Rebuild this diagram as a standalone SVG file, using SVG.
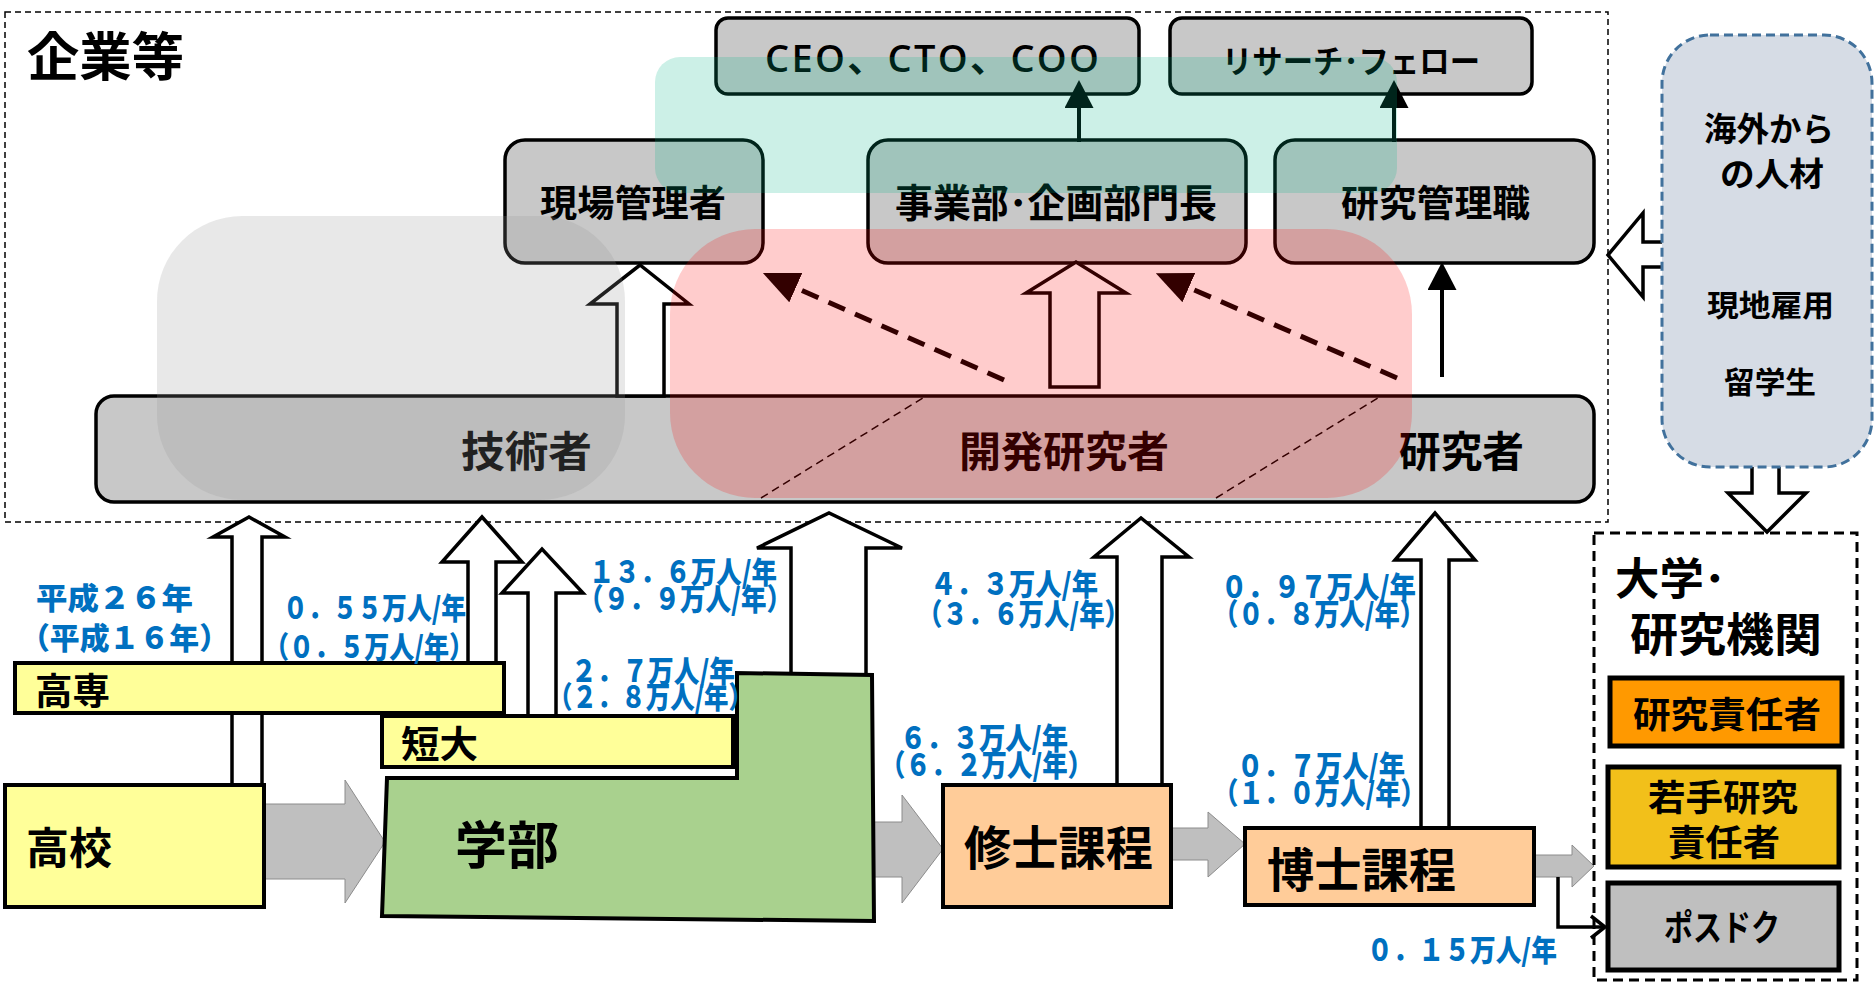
<svg xmlns="http://www.w3.org/2000/svg" width="1874" height="987" viewBox="0 0 1874 987">
<style>
.t{font-family:"Noto Sans CJK JP","Noto Sans",sans-serif;font-weight:700;fill:#000}
.lbl{font-family:"Noto Sans CJK JP","Noto Sans",sans-serif;font-weight:900;fill:#0070c0;font-size:30px}
.box{fill:#c8c8c8;stroke:#000;stroke-width:3.5}
.wa{fill:#fff;stroke:#000;stroke-width:3.5;stroke-linejoin:miter}
.ga{fill:#bfbfbf;stroke:#8c8c8c;stroke-width:1}
.yel{fill:#ffff99;stroke:#000;stroke-width:4}
.peach{fill:#ffcc99;stroke:#000;stroke-width:4}
.dl{fill:none;stroke:#000;stroke-width:5;stroke-dasharray:18 11}
.sl{fill:none;stroke:#000;stroke-width:4}
</style>
<defs>
<marker id="headD" markerUnits="userSpaceOnUse" viewBox="0 0 36 32" markerWidth="36" markerHeight="32" refX="14" refY="16" orient="auto">
<path d="M0,0 L36,16 L0,32 z" fill="#000"/>
</marker>
<marker id="headS" markerUnits="userSpaceOnUse" viewBox="0 0 28 29" markerWidth="28" markerHeight="29" refX="8" refY="14.5" orient="auto">
<path d="M0,0 L28,14.5 L0,29 z" fill="#000"/>
</marker>
</defs>

<!-- 企業等 frame -->
<g id="company">
<rect x="5" y="12" width="1603" height="510" fill="none" stroke="#000" stroke-width="1.5" stroke-dasharray="6 4"/>
<text class="t" x="27" y="76" font-size="52" textLength="157" lengthAdjust="spacingAndGlyphs">企業等</text>
</g>

<g id="ceo">
<rect class="box" x="716" y="18" width="423" height="76" rx="12" stroke-width="3"/>
<text x="765" y="72" font-family="'Open Sans','Noto Sans CJK JP',sans-serif" font-weight="600" font-size="38" fill="#000" textLength="334" lengthAdjust="spacing">CEO、CTO、COO</text>
</g>
<g id="fellow">
<rect class="box" x="1170" y="18" width="362" height="76" rx="12" stroke-width="3"/>
<text class="t" x="1222" y="73" font-size="32" textLength="258" lengthAdjust="spacingAndGlyphs">リサーチ･フェロー</text>
</g>
<g id="genba">
<rect class="box" x="505" y="140" width="258" height="123" rx="20"/>
<text class="t" x="540" y="217" font-size="37" textLength="186" lengthAdjust="spacingAndGlyphs">現場管理者</text>
</g>
<g id="jigyobu">
<rect class="box" x="868" y="140" width="378" height="123" rx="20"/>
<text class="t" x="895" y="217" font-size="39" textLength="322" lengthAdjust="spacingAndGlyphs">事業部･企画部門長</text>
</g>
<g id="kenkyukanri">
<rect class="box" x="1275" y="140" width="319" height="123" rx="20"/>
<text class="t" x="1341" y="217" font-size="37" textLength="189" lengthAdjust="spacingAndGlyphs">研究管理職</text>
</g>
<g id="bar">
<rect class="box" x="96" y="396" width="1498" height="106" rx="18" stroke-width="4"/>
<line x1="761" y1="498" x2="926" y2="396" stroke="#000" stroke-width="1.5" stroke-dasharray="8 5"/>
<line x1="1216" y1="498" x2="1381" y2="396" stroke="#000" stroke-width="1.5" stroke-dasharray="8 5"/>
<text class="t" x="461" y="467" font-size="42" textLength="131" lengthAdjust="spacingAndGlyphs">技術者</text>
<text class="t" x="959" y="467" font-size="42" textLength="210" lengthAdjust="spacingAndGlyphs">開発研究者</text>
<text class="t" x="1399" y="467" font-size="42" textLength="125" lengthAdjust="spacingAndGlyphs">研究者</text>
</g>

<g id="connectors-company">
<polygon class="wa" points="617,396 617,304 590,304 640,265 689,304 664,304 664,396"/>
<polygon class="wa" points="1050,387 1050,293 1026,293 1076,262 1126,293 1099,293 1099,387"/>
<line class="dl" x1="1004" y1="380" x2="783" y2="282" marker-end="url(#headD)"/>
<line class="dl" x1="1397" y1="378" x2="1176" y2="282" marker-end="url(#headD)"/>
<line class="sl" x1="1442" y1="377" x2="1442" y2="282" marker-end="url(#headS)"/>
<line class="sl" x1="1079" y1="142" x2="1079" y2="100" marker-end="url(#headS)"/>
<line class="sl" x1="1394" y1="142" x2="1394" y2="100" marker-end="url(#headS)"/>
</g>

<g id="overlays">
<rect x="157" y="216" width="468" height="284" rx="85" fill="#969696" opacity="0.22"/>
<rect x="670" y="229" width="742" height="269" rx="85" fill="#ff0000" opacity="0.2"/>
<rect x="655" y="57" width="742" height="136" rx="25" fill="#00b386" opacity="0.2"/>
</g>

<g id="connectors-edu">
<polygon class="wa" points="232,785 232,537 213,537 249,517 285,537 262,537 262,785"/>
<polygon class="wa" points="468,663 468,562 442,562 482,517 522,562 496,562 496,663"/>
<polygon class="wa" points="528,716 528,593 502,593 542,549 583,593 556,593 556,716"/>
<polygon class="wa" points="791,675 791,548 757,548 829,513 902,548 866,548 866,675"/>
<polygon class="wa" points="1117,785 1117,557 1094,557 1141,518 1189,557 1162,557 1162,785"/>
<polygon class="wa" points="1421,828 1421,560 1395,560 1435,513 1475,560 1449,560 1449,828"/>
<polygon class="ga" points="262,804 345,804 345,780 385,842 345,903 345,879 262,879"/>
<polygon class="ga" points="874,822 902,822 902,795 943,849 902,903 902,877 874,877"/>
<polygon class="ga" points="1171,828 1208,828 1208,812 1245,844 1208,877 1208,860 1171,860"/>
<polygon class="ga" points="1534,855 1572,855 1572,845 1594,866 1572,887 1572,877 1534,877"/>
<polyline points="1558,877 1558,927 1604,927" fill="none" stroke="#000" stroke-width="3.5"/>
<polyline points="1591,916 1605,927 1591,938" fill="none" stroke="#000" stroke-width="3.5"/>
<polygon class="wa" points="1665,242 1643,242 1643,213 1608,255 1643,297 1643,267 1665,267"/>
<polygon class="wa" points="1752,462 1779,462 1779,493 1806,493 1767,532 1728,493 1752,493"/>
</g>

<g id="koukou">
<rect class="yel" x="5" y="785" width="259" height="122"/>
<text class="t" x="26" y="864" font-size="43" textLength="86" lengthAdjust="spacingAndGlyphs">高校</text>
</g>
<g id="kousen">
<rect class="yel" x="15" y="663" width="489" height="50"/>
<text class="t" x="35" y="705" font-size="37" textLength="75" lengthAdjust="spacingAndGlyphs">高専</text>
</g>
<g id="tandai">
<rect class="yel" x="382" y="716" width="351" height="51"/>
<text class="t" x="401" y="758" font-size="37" textLength="77" lengthAdjust="spacingAndGlyphs">短大</text>
</g>
<g id="gakubu">
<polygon points="387,778 737,778 737,673 872,675 874,921 382,916" fill="#a9d18e" stroke="#000" stroke-width="4"/>
<text class="t" x="455" y="864" font-size="51" textLength="104" lengthAdjust="spacingAndGlyphs">学部</text>
</g>
<g id="shushi">
<rect class="peach" x="943" y="785" width="228" height="122"/>
<text class="t" x="964" y="865" font-size="47" textLength="189" lengthAdjust="spacingAndGlyphs">修士課程</text>
</g>
<g id="hakushi">
<rect class="peach" x="1245" y="828" width="289" height="77"/>
<text class="t" x="1267" y="887" font-size="47" textLength="189" lengthAdjust="spacingAndGlyphs">博士課程</text>
</g>

<g id="labels">
<text class="lbl" x="36" y="609" textLength="157" lengthAdjust="spacingAndGlyphs">平成２６年</text>
<text class="lbl" x="20" y="649" textLength="209" lengthAdjust="spacingAndGlyphs">（平成１６年）</text>
<text class="lbl" x="283" y="619" textLength="183" lengthAdjust="spacingAndGlyphs">０．５５万人/年</text>
<text class="lbl" x="264" y="658" textLength="210" lengthAdjust="spacingAndGlyphs">（０．５万人/年）</text>
<text class="lbl" x="589" y="583" textLength="188" lengthAdjust="spacingAndGlyphs">１３．６万人/年</text>
<text class="lbl" x="578" y="610" textLength="214" lengthAdjust="spacingAndGlyphs">（９．９万人/年）</text>
<text class="lbl" x="571" y="682" textLength="164" lengthAdjust="spacingAndGlyphs">２．７万人/年</text>
<text class="lbl" x="548" y="708" textLength="205" lengthAdjust="spacingAndGlyphs">（２．８万人/年）</text>
<text class="lbl" x="930" y="595" textLength="168" lengthAdjust="spacingAndGlyphs">４．３万人/年</text>
<text class="lbl" x="917" y="625" textLength="213" lengthAdjust="spacingAndGlyphs">（３．６万人/年）</text>
<text class="lbl" x="1221" y="598" textLength="195" lengthAdjust="spacingAndGlyphs">０．９７万人/年</text>
<text class="lbl" x="1213" y="625" textLength="212" lengthAdjust="spacingAndGlyphs">（０．８万人/年）</text>
<text class="lbl" x="900" y="749" textLength="168" lengthAdjust="spacingAndGlyphs">６．３万人/年</text>
<text class="lbl" x="880" y="776" textLength="213" lengthAdjust="spacingAndGlyphs">（６．２万人/年）</text>
<text class="lbl" x="1237" y="777" textLength="168" lengthAdjust="spacingAndGlyphs">０．７万人/年</text>
<text class="lbl" x="1213" y="804" textLength="213" lengthAdjust="spacingAndGlyphs">（１．０万人/年）</text>
<text class="lbl" x="1367" y="961" textLength="190" lengthAdjust="spacingAndGlyphs">０．１５万人/年</text>
</g>

<g id="kaigai">
<rect x="1662" y="35" width="210" height="432" rx="48" fill="#d6dce5" stroke="#41719c" stroke-width="3" stroke-dasharray="9 5"/>
<text class="t" x="1704" y="141" font-size="33" textLength="130" lengthAdjust="spacingAndGlyphs">海外から</text>
<text class="t" x="1720" y="186" font-size="33" textLength="104" lengthAdjust="spacingAndGlyphs">の人材</text>
<text class="t" x="1707" y="316" font-size="30" textLength="127" lengthAdjust="spacingAndGlyphs">現地雇用</text>
<text class="t" x="1724" y="393" font-size="30" textLength="92" lengthAdjust="spacingAndGlyphs">留学生</text>
</g>

<g id="daigaku">
<rect x="1594" y="533" width="263" height="447" fill="none" stroke="#000" stroke-width="3" stroke-dasharray="10 6"/>
<text class="t" x="1615" y="595" font-size="44" textLength="111" lengthAdjust="spacingAndGlyphs">大学･</text>
<text class="t" x="1630" y="651" font-size="46" textLength="192" lengthAdjust="spacingAndGlyphs">研究機関</text>
</g>
<g id="sekininsha">
<rect x="1610" y="678" width="232" height="68" fill="#ff9900" stroke="#000" stroke-width="5"/>
<text class="t" x="1633" y="728" font-size="36" textLength="188" lengthAdjust="spacingAndGlyphs">研究責任者</text>
</g>
<g id="wakate">
<rect x="1608" y="767" width="231" height="100" fill="#f2c01a" stroke="#000" stroke-width="5"/>
<text class="t" x="1648" y="811" font-size="36" textLength="150" lengthAdjust="spacingAndGlyphs">若手研究</text>
<text class="t" x="1668" y="856" font-size="36" textLength="112" lengthAdjust="spacingAndGlyphs">責任者</text>
</g>
<g id="posdoc">
<rect x="1608" y="883" width="231" height="87" fill="#bfbfbf" stroke="#000" stroke-width="5"/>
<text class="t" x="1664" y="941" font-size="36" textLength="116" lengthAdjust="spacingAndGlyphs">ポスドク</text>
</g>
</svg>
